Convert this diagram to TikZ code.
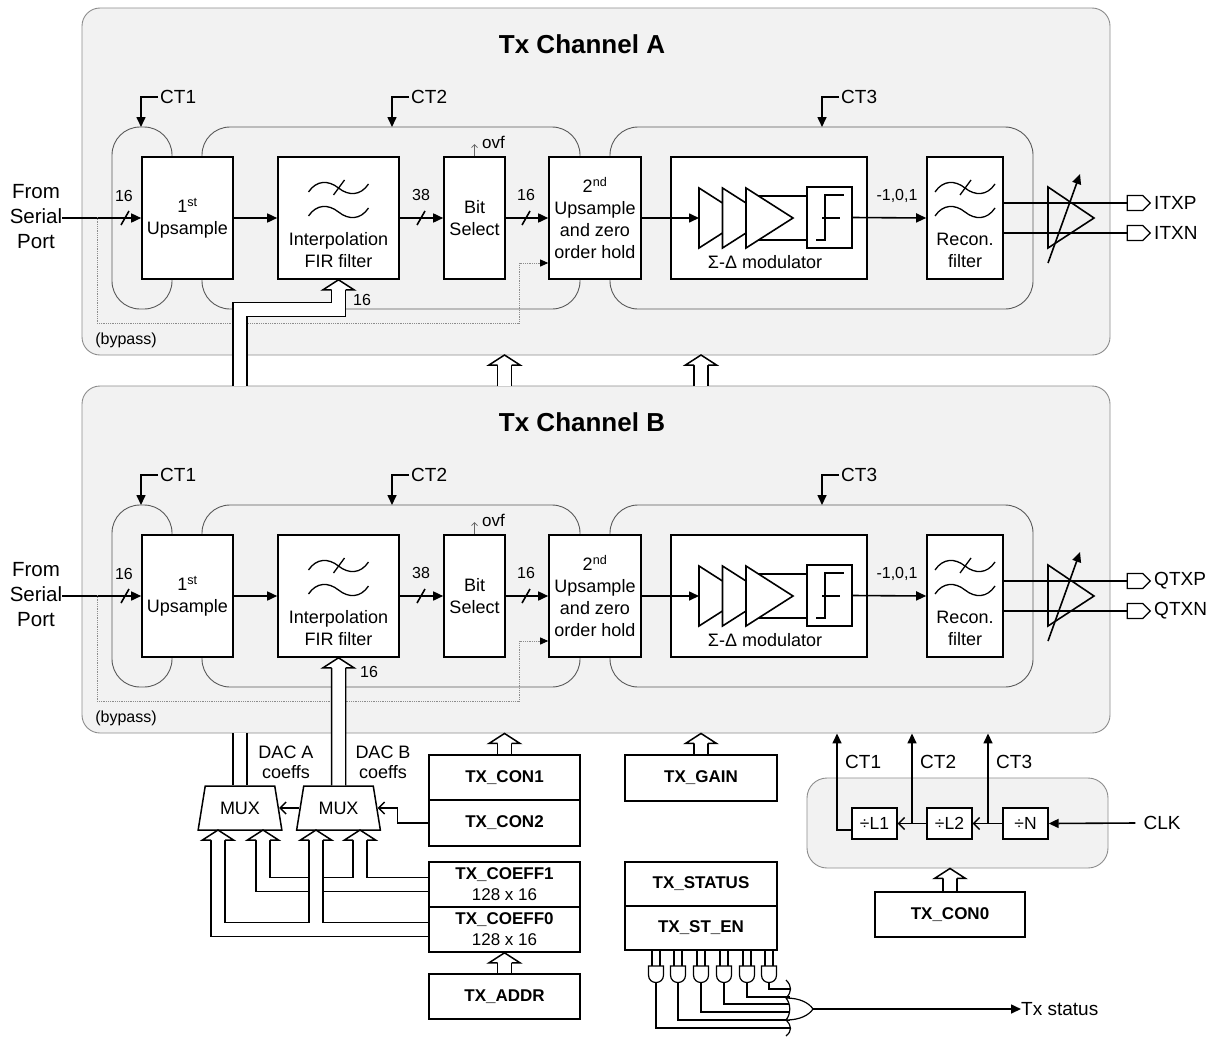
\documentclass[tikz,border=0pt]{standalone}
\usepackage{fontspec}
\setmainfont{Liberation Sans}
\usetikzlibrary{arrows.meta,shapes.geometric,shapes.symbols}

\tikzset{
  chan/.style={draw=black!45, line width=0.9pt, fill=black!5, rounded corners=18pt},
  ctbox/.style={draw=black!65, line width=0.9pt, rounded corners=28pt},
  blk/.style={draw, line width=1.6pt, fill=white, inner sep=0pt},
  reg/.style={blk, minimum width=151pt, minimum height=45pt, align=center,
    font=\bfseries\fontsize{17}{21}\selectfont},
  dvd/.style={blk, line width=1.3pt, minimum width=45pt, minimum height=31pt,
    font=\fontsize{17.5}{20}\selectfont},
  mux/.style={trapezium, draw, line width=1.5pt, fill=white, trapezium left angle=72,
    trapezium right angle=72, trapezium stretches=true, minimum width=84pt,
    minimum height=44pt, inner sep=0pt},
  lbl/.style={inner sep=0pt, align=center, font=\fontsize{18}{22}\selectfont},
  big/.style={lbl, font=\fontsize{19}{22}\selectfont},
  num/.style={inner sep=0pt, font=\fontsize{16}{18}\selectfont},
  sig/.style={line width=1.6pt},
  tri/.style={sig, -{Triangle[length=10pt,width=9pt]}},
  barb/.style={line width=1.4pt, -{Straight Barb[length=6pt,width=12pt]}},
  bus/.style={double, double distance=12.5pt, line width=1.5pt},
  bypass/.style={densely dotted, draw=black!45, line width=0.8pt,
    -{Triangle[length=8pt,width=7pt,color=black]}},
  port/.style={draw, line width=1.3pt, signal, signal to=east, fill=white,
    minimum width=23pt, minimum height=15pt, inner sep=0pt},
  bushead/.pic={\draw[line width=1.5pt, fill=white] (-7,10) -- (-15.5,10) -- (0,0) -- (15.5,10) -- (7,10);},
  lpf/.pic={
    \draw[line width=1.3pt] (-30,-8) .. controls (-22,-20) and (-10,-20) .. (0,-12) .. controls (10,-4) and (22,-4) .. (30,-16);
    \draw[line width=1.3pt] (-30,16) .. controls (-22,4) and (-10,4) .. (0,12) .. controls (10,20) and (22,20) .. (30,8);
    \draw[line width=1.3pt] (-5,-5) -- (6,-20);
  }
}

\begin{document}
\begin{tikzpicture}[x=1pt, y=-1pt]
  \useasboundingbox (0,0) rectangle (1222,1036);

  % both channels, B is A moved down
  \foreach \ch/\oy/\pfx in {A/0/I,B/378/Q}{
  \begin{scope}[shift={(0,\oy)}]
    \node[chan, minimum width=1028pt, minimum height=347pt] (ch\ch) at (596,181.5) {};
    \node[inner sep=0pt, font=\bfseries\fontsize{26}{30}\selectfont] (tt\ch) at (582,44) {Tx Channel \ch};
    % clock regions
    \draw[ctbox] (112,127) rectangle (172,309);
    \draw[ctbox] (202,127) rectangle (580,309);
    \draw[ctbox] (610,127) rectangle (1033,309);
    \node[big, anchor=west, inner xsep=2pt] (ca\ch) at (158,97) {CT1};
    \node[big, anchor=west, inner xsep=2pt] (cb\ch) at (409,97) {CT2};
    \node[big, anchor=west, inner xsep=2pt] (cc\ch) at (839,97) {CT3};
    \draw[tri] (ca\ch.west) -| (141,127);
    \draw[tri] (cb\ch.west) -| (392,127);
    \draw[tri] (cc\ch.west) -| (822,127);

    \node[blk, lbl, minimum width=91pt, minimum height=122pt] (up\ch) at (187.5,218) {1\textsuperscript{st}\\Upsample};
    \node[blk, minimum width=121pt, minimum height=122pt] (fir\ch) at (338.5,218) {};
    \pic at (338.5,200) {lpf};
    \node[lbl] (firt\ch) at (338.5,250) {Interpolation\\FIR filter};
    \node[blk, lbl, minimum width=61pt, minimum height=122pt] (bs\ch) at (474.5,218) {Bit\\Select};
    \node[blk, lbl, minimum width=92pt, minimum height=122pt] (uz\ch) at (595,218) {2\textsuperscript{nd}\\Upsample\\and zero\\order hold};
    \node[blk, minimum width=196pt, minimum height=122pt] (sd\ch) at (769,218) {};
    \node[blk, minimum width=76pt, minimum height=122pt] (rc\ch) at (965,218) {};
    \pic at (965,200) {lpf};
    \node[lbl] (rct\ch) at (965,250.5) {Recon.\\filter};

    % integrators and quantizer
    \draw[sig] (746,196) -- (807,196) (746,240) -- (807,240);
    \foreach \k in {0,1,2}
      \draw[sig, fill=white] ({699+23.5*\k},188) -- ++(47,30) -- ++(-47,30) -- cycle;
    \node[blk, line width=1.3pt, minimum width=45pt, minimum height=61pt] (qz\ch) at (829.5,217.5) {};
    \draw[line width=1.3pt] (816,240) -- (825,240) -- (825,195) -- (844,195) (822,218) -- (840,218);
    \node[lbl] (sdt\ch) at (765,262) {Σ-Δ modulator};

    % data path
    \node[lbl, font=\fontsize{20.5}{25}\selectfont] (src\ch) at (36,217) {From\\Serial\\Port};
    \draw[tri] (src\ch.east |- up\ch.west) -- (up\ch.west);
    \draw[sig] (121,225) -- (129,211);
    \node[num] (wa\ch) at (124,196) {16};
    \draw[tri] (up\ch.east) -- (fir\ch.west);
    \draw[tri] (fir\ch.east) -- (bs\ch.west);
    \draw[sig] (417,225) -- (425,211);
    \node[num] (wb\ch) at (421,195) {38};
    \draw[tri] (bs\ch.east) -- (uz\ch.west);
    \draw[sig] (522,225) -- (530,211);
    \node[num] (wc\ch) at (526,195) {16};
    \draw[tri] (uz\ch.east) -- (699,218);
    \draw[tri] (qz\ch.east) -- (rc\ch.west);
    \node[num] (wd\ch) at (897,196) {-1,0,1};
    \draw[line width=0.7pt, draw=black!60, -{Straight Barb[length=3pt,width=6pt]}] (bs\ch.north) -- ++(0,-12);
    \node[lbl, anchor=west, font=\fontsize{17}{20}\selectfont] (ovf\ch) at (482,142) {ovf};
    \draw[bypass] (97,217) |- (519,323) |- (uz\ch.west |- 0,263);
    \node[num] (byp\ch) at (126,340) {(bypass)};

    % output stage
    \node[port] (pp\ch) at (1135,203) {};
    \node[port] (pn\ch) at (1135,233) {};
    \draw[sig] (rc\ch.east |- pp\ch) -- (pp\ch.west);
    \draw[sig] (rc\ch.east |- pn\ch) -- (pn\ch.west);
    \draw[sig] (1048,187) -- (1094,218) -- (1048,248) -- cycle;
    \draw[tri] (1048,263) -- (1080,174);
    \node[big, anchor=west] (ppt\ch) at (1154,203) {\pfx TXP};
    \node[big, anchor=west] (pnt\ch) at (1154,233) {\pfx TXN};
  \end{scope}
  }

  % links between the channels
  \foreach \bx in {504.5,701}{
    \draw[bus] (\bx,386) -- (\bx,365);
    \pic at (\bx,355) {bushead};
  }

  % coefficient muxes
  \node[mux, lbl] (mux1) at (240,808) {MUX};
  \node[mux, lbl] (mux2) at (338.5,808) {MUX};
  \node[lbl, font=\fontsize{18}{20}\selectfont] (dla) at (286,762) {DAC A\\coeffs};
  \node[lbl, font=\fontsize{18}{20}\selectfont] (dlb) at (383,762) {DAC B\\coeffs};
  \draw[bus] (240,386) -- (240,309.5) -- (338.5,309.5) -- (firA.south |- 0,289);
  \pic at (firA.south) {bushead};
  \node[num, anchor=west] (wbusA) at (353,300) {16};
  \draw[bus] (mux1.north) -- (mux1.north |- chB.south);
  \draw[bus] (mux2.north) -- (firB.south |- 0,667);
  \pic at (firB.south) {bushead};
  \node[num, anchor=west] (wbusB) at (360,672) {16};

  % registers
  \node[reg] (con1) at (504.5,777.5) {TX\_CON1};
  \node[reg, minimum height=46pt] (con2) at (504.5,823) {TX\_CON2};
  \node[reg] (cf1) at (504.5,884.5) {TX\_COEFF1\\\mdseries 128 x 16};
  \node[reg] (cf0) at (504.5,929.5) {TX\_COEFF0\\\mdseries 128 x 16};
  \node[reg] (addr) at (504.5,996.5) {TX\_ADDR};
  \node[reg, minimum width=152pt, minimum height=46pt] (gain) at (701,778) {TX\_GAIN};
  \node[reg, minimum width=152pt, minimum height=44pt] (stat) at (701,884) {TX\_STATUS};
  \node[reg, minimum width=152pt, minimum height=44pt] (sten) at (701,928) {TX\_ST\_EN};
  \node[reg, minimum width=150pt] (con0) at (950,914.5) {TX\_CON0};

  \draw[bus] (con1.north) -- ++(0,-13);
  \pic at (con1.north |- chB.south) {bushead};
  \draw[bus] (gain.north) -- ++(0,-13);
  \pic at (gain.north |- chB.south) {bushead};
  \draw[bus] (addr.north) -- ++(0,-12);
  \pic at (addr.north |- cf0.south) {bushead};

  \draw[barb] (mux2.left side) -- (mux1.right side);
  \draw[barb] (con2.west) -- ++(-31,0) |- (mux2.right side);
  \draw[bus] (cf1.west) -- (360,884.5) -- (360,840) (360,884.5) -- (263,884.5) -- (263,840);
  \draw[bus] (cf0.west) -- (316,929.5) -- (316,840) (316,929.5) -- (218,929.5) -- (218,840);
  \foreach \hx in {218,263,316,360}
    \pic at (\hx,830) {bushead};

  % clock dividers
  \node[chan, rounded corners=20pt, minimum width=301pt, minimum height=90pt] (ck) at (957.5,823) {};
  \node[dvd] (dv1) at (874.5,823.5) {÷L1};
  \node[dvd] (dv2) at (949.5,823.5) {÷L2};
  \node[dvd] (dvn) at (1025.5,823.5) {÷N};
  \node[big, inner xsep=8pt] (clk) at (1162,823) {CLK};
  \draw[tri] (clk.west) -- (dvn.east);
  \draw[barb] (dvn.west) -- (dv2.east);
  \draw[barb] (dv2.west) -- (dv1.east);
  \coordinate (k1) at (837,830);
  \coordinate (k2) at (912,823.5);
  \coordinate (k3) at (988,823.5);
  \draw[tri] (dv1.west |- k1) -- (k1) -- (k1 |- chB.south);
  \draw[tri] (k2) -- (k2 |- chB.south);
  \draw[tri] (k3) -- (k3 |- chB.south);
  \node[big, anchor=west] (kl1) at (845,762) {CT1};
  \node[big, anchor=west] (kl2) at (920,762) {CT2};
  \node[big, anchor=west] (kl3) at (996,762) {CT3};
  \draw[bus] (con0.north) -- ++(0,-14);
  \pic at (con0.north |- ck.south) {bushead};

  % status enables
  \foreach \gx/\gy in {656/1028,678/1020,701/1012,724/1004,747/997,769/989}{
    \draw[line width=1.2pt] ({\gx-4},950) -- ({\gx-4},966) ({\gx+4},950) -- ({\gx+4},966);
    \draw[line width=1.2pt, fill=white] ({\gx-7.5},966) -- ({\gx+7.5},966) -- ({\gx+7.5},975)
      .. controls ({\gx+7.5},985) and ({\gx-7.5},985) .. ({\gx-7.5},975) -- cycle;
    \draw[line width=1.2pt] (\gx,982.5) |- (790,\gy);
  }
  \draw[line width=1.2pt, fill=white] (786,998) .. controls (800,998) and (809,1003) .. (813,1009)
    .. controls (809,1015) and (800,1020) .. (786,1020) .. controls (791,1014) and (791,1004) .. (786,998) -- cycle;
  \draw[line width=1.2pt] (786,980) .. controls (792,986) and (792,992) .. (786,998)
    (786,1020) .. controls (792,1026) and (792,1031) .. (786,1036);
  \coordinate (orout) at (813,1009);
  \node[big, anchor=west] (txs) at (1021,1009) {Tx status};
  \draw[tri] (orout) -- (txs.west);
\end{tikzpicture}
\end{document}
